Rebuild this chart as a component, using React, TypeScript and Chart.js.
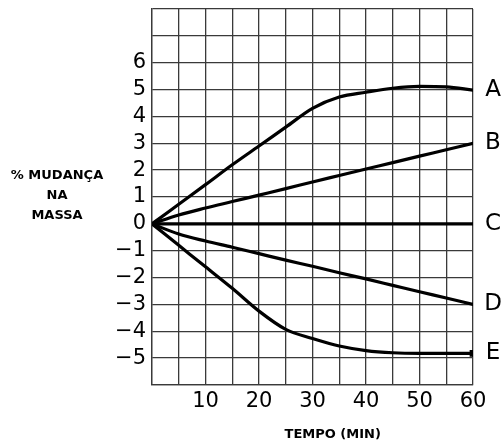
import React, { useEffect, useRef } from "react";
import { Chart, registerables } from "chart.js";

Chart.register(...registerables);

const TIME = [0, 5, 10, 15, 20, 25, 30, 35, 40, 45, 50, 55, 60];
const SERIES_NAMES = ["A", "B", "C", "D", "E"];
const SERIES_A = [0, 0.73, 1.46, 2.2, 2.9, 3.6, 4.3, 4.72, 4.9, 5.05, 5.12, 5.1, 4.98];
const SERIES_B = [0, 0.33, 0.59, 0.83, 1.07, 1.31, 1.56, 1.8, 2.04, 2.28, 2.52, 2.76, 3.0];
const SERIES_C = [0, 0, 0, 0, 0, 0, 0, 0, 0, 0, 0, 0, 0];
const SERIES_D = [0, -0.38, -0.64, -0.87, -1.11, -1.35, -1.58, -1.82, -2.05, -2.29, -2.53, -2.76, -3.0];
const SERIES_E = [0, -0.8, -1.6, -2.4, -3.25, -3.93, -4.27, -4.55, -4.72, -4.8, -4.82, -4.82, -4.82];
const X_TICK_LABELS = [10, 20, 30, 40, 50, 60];
const Y_TICK_LABELS = [-5, -4, -3, -2, -1, 0, 1, 2, 3, 4, 5, 6];
const Y_TITLE = ["% MUDANÇA", "NA", "MASSA"];
const X_TITLE = "TEMPO (MIN)";

const FONT = "'DejaVu Sans', sans-serif";

export default function App() {
  const ref = useRef<HTMLCanvasElement | null>(null);

  useEffect(() => {
    if (!ref.current) return;
    const all = [SERIES_A, SERIES_B, SERIES_C, SERIES_D, SERIES_E];
    const datasets = all.map((vals, i) => ({
      label: SERIES_NAMES[i],
      data: vals.map((v, k) => ({ x: TIME[k], y: v })),
      borderColor: "#000",
      backgroundColor: "#000",
      borderWidth: 3.2,
      borderCapStyle: "round" as const,
      borderJoinStyle: "round" as const,
      cubicInterpolationMode: "monotone" as const,
      pointStyle: "rect" as const,
      pointRadius: vals.map((_, k) => (i === 4 && k === vals.length - 1 ? 2.5 : 0)),
      pointHoverRadius: 0,
    }));

    const labelsPlugin = {
      id: "labelsPlugin",
      afterDraw(chart: any) {
        const ctx = chart.ctx;
        const area = chart.chartArea;
        const ys = chart.scales.y;
        ctx.save();
        ctx.fillStyle = "#000";
        ctx.textAlign = "center";
        ctx.textBaseline = "middle";
        ctx.font = `23px ${FONT}`;
        all.forEach((vals, i) => {
          ctx.fillText(SERIES_NAMES[i], area.right + 20, ys.getPixelForValue(vals[vals.length - 1]));
        });
        ctx.font = `bold 13px ${FONT}`;
        const midY = ys.getPixelForValue(1);
        Y_TITLE.forEach((t, i) => {
          ctx.fillText(t, 57, midY - 21 + i * 20);
        });
        ctx.fillText(X_TITLE, area.left + (area.right - area.left) * 0.563, area.bottom + 50);
        ctx.restore();
      },
    };

    const gridColor = "#3a3a3a";
    const chart = new Chart(ref.current, {
      type: "line",
      data: { datasets },
      options: {
        animation: false,
        responsive: false,
        events: [],
        layout: { padding: { left: 0, top: 9, right: 31, bottom: 0 } },
        plugins: { legend: { display: false }, tooltip: { enabled: false } },
        scales: {
          x: {
            type: "linear",
            min: 0,
            max: 60,
            afterFit: (s: any) => {
              s.height = 62;
              s.paddingLeft = 0;
              s.paddingRight = 0;
            },
            ticks: {
              stepSize: 5,
              autoSkip: false,
              maxRotation: 0,
              padding: 4,
              color: "#000",
              font: { family: FONT, size: 21 },
              callback: (v: any) => (X_TICK_LABELS.includes(Number(v)) ? String(v) : ""),
            },
            grid: { color: gridColor, lineWidth: 1.3, drawTicks: false },
            border: { color: gridColor, width: 1.3 },
          },
          y: {
            type: "linear",
            min: -6,
            max: 8,
            afterFit: (s: any) => {
              s.width = 152;
              s.paddingTop = 0;
              s.paddingBottom = 0;
            },
            ticks: {
              stepSize: 1,
              autoSkip: false,
              padding: 6,
              color: "#000",
              font: { family: FONT, size: 21 },
              callback: (v: any) => {
                const n = Number(v);
                if (!Y_TICK_LABELS.includes(n)) return "";
                return n < 0 ? "\u2212" + Math.abs(n) : String(n);
              },
            },
            grid: { color: gridColor, lineWidth: 1.3, drawTicks: false },
            border: { color: gridColor, width: 1.3 },
          },
        },
      },
      plugins: [labelsPlugin],
    });
    return () => chart.destroy();
  }, []);

  return (
    <div style={{ position: "absolute", left: 0, top: 0, width: 504, height: 447, background: "#fff" }}>
      <canvas ref={ref} width={504} height={447} style={{ display: "block" }} />
    </div>
  );
}
